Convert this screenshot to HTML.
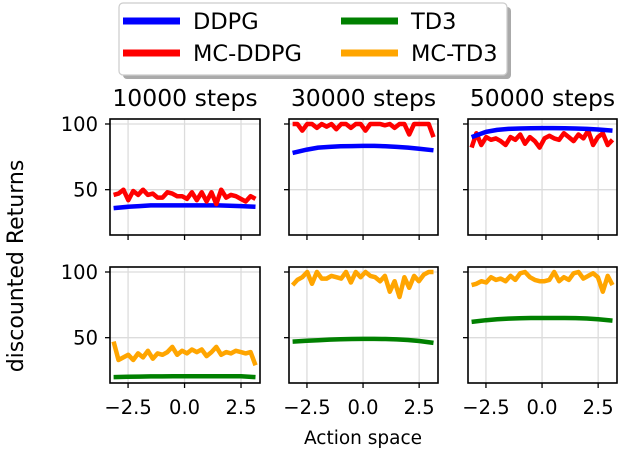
<!DOCTYPE html>
<html><head><meta charset="utf-8"><style>
body{margin:0;background:#fff;font-family:"DejaVu Sans","Liberation Sans",sans-serif}
svg text{font-family:"DejaVu Sans","Liberation Sans",sans-serif}
</style></head><body>
<svg id="chart" width="618" height="448" xmlns="http://www.w3.org/2000/svg"></svg>
<script>
const titles=["10000 steps","30000 steps","50000 steps"];
const xTicks=[-2.5,0.0,2.5];
const xTickLabels=["\u22122.5","0.0","2.5"];
const yTicks=[50,100];
const smoothX=[-3.14,-2.5,-2,-1.5,-1,-0.5,0,0.5,1,1.5,2,2.5,3.14];
const ddpg10=[36,37,37.5,38,38,38,38,38,38,38,37.8,37.5,37];
const ddpg30=[78,80.5,82,82.6,83,83.2,83.3,83.3,83.1,82.6,82,81.2,80];
const ddpg50=[90,94,95.5,96.3,96.6,96.8,96.9,96.9,96.8,96.6,96.3,95.8,95];
const td3_10=[20,20.2,20.4,20.5,20.5,20.6,20.6,20.6,20.6,20.7,20.7,20.6,20];
const td3_30=[47,47.6,48.1,48.5,48.8,49,49.1,49.1,49,48.7,48.2,47.5,46];
const td3_50=[62,63.3,64,64.5,64.8,65,65,65,65,64.9,64.6,64,63];
const mcddpg10=[46,47,50,42,49,46,50,46,47,44,44,48,47,45,45,43,48,42,48,41,48,39,50,44,46,45,43,41,45,43];
const mcddpg30=[100,100,95,100,100,97,100,98,100,96,100,100,97,100,100,95,100,100,100,99,100,97,100,100,92,100,100,100,100,90];
const mcddpg50=[82,93,84,90,88,89,87,84,90,88,92,85,90,87,82,89,91,89,88,93,90,87,92,89,95,84,90,93,84,88];
const mctd3_10=[47,33,35,37,33,38,35,40,34,38,37,39,43,37,40,38,41,39,41,36,39,43,37,39,38,40,39,38,39,29];
const mctd3_30=[90,94,96,100,91,100,95,95,97,96,95,100,92,100,96,100,97,96,93,97,85,93,81,96,88,97,93,98,100,100];
const mctd3_50=[90,91,93,92,96,94,95,93,97,94,99,100,96,94,93,93,94,100,93,96,94,99,100,95,97,99,96,85,97,90];
const colors={ddpg:"#0000ff",mcddpg:"#ff0000",td3:"#008000",mctd3:"#ffa500"};
const NS="http://www.w3.org/2000/svg";
const svg=document.getElementById("chart");
function mk(tag,attrs,parent){const e=document.createElementNS(NS,tag);for(const k in attrs)e.setAttribute(k,attrs[k]);(parent||svg).appendChild(e);return e;}
const cols=[[110,260],[289,438],[468,617]];
const rows=[[119,235],[267,383]];
const xMin=-3.3,xMax=3.34,yMin=15.5,yMax=103.8;
function noisyX(n){const a=[];for(let i=0;i<n;i++)a.push(-3.14+6.28*i/(n-1));return a;}
const series=[
 [[ddpg10,smoothX,"ddpg"],[mcddpg10,null,"mcddpg"]],
 [[ddpg30,smoothX,"ddpg"],[mcddpg30,null,"mcddpg"]],
 [[mcddpg50,null,"mcddpg"],[ddpg50,smoothX,"ddpg"]],
 [[td3_10,smoothX,"td3"],[mctd3_10,null,"mctd3"]],
 [[td3_30,smoothX,"td3"],[mctd3_30,null,"mctd3"]],
 [[td3_50,smoothX,"td3"],[mctd3_50,null,"mctd3"]]
];
for(let r=0;r<2;r++)for(let c=0;c<3;c++){
 const [x0,x1]=cols[c],[y0,y1]=rows[r];
 const sx=v=>x0+(v-xMin)/(xMax-xMin)*(x1-x0);
 const sy=v=>y1-(v-yMin)/(yMax-yMin)*(y1-y0);
 const g=mk("g",{});
 
 
 xTicks.forEach((t,i)=>{const x=sx(t);mk("line",{x1:x,x2:x,y1:y0,y2:y1,stroke:"#dcdcdc","stroke-width":1.3},g);
  mk("line",{x1:x,x2:x,y1:y1,y2:y1+5,stroke:"#000","stroke-width":1.3},g);
  if(r===1){const tl=mk("text",{x:x,y:y1+31,"font-size":19.5,"text-anchor":"middle"},g);tl.textContent=xTickLabels[i];
   }});
 yTicks.forEach(t=>{const y=sy(t);mk("line",{x1:x0,x2:x1,y1:y,y2:y,stroke:"#dcdcdc","stroke-width":1.3},g);
  mk("line",{x1:x0-5,x2:x0,y1:y,y2:y,stroke:"#000","stroke-width":1.3},g);
  if(c===0){const tl=mk("text",{x:x0-12,y:y+7,"font-size":19.5,"text-anchor":"end"},g);tl.textContent=String(t);
   }});
 const cp=mk("clipPath",{id:"cp"+r+c},g);mk("rect",{x:x0,y:y0,width:x1-x0,height:y1-y0},cp);
 series[r*3+c].forEach(([vals,xs,key])=>{
  const X=xs||noisyX(vals.length);
  const d=vals.map((v,i)=>(i?"L":"M")+sx(X[i]).toFixed(1)+","+sy(v).toFixed(1)).join("");
  const p=mk("path",{d:d,fill:"none",stroke:colors[key],"stroke-width":4.5,"stroke-linejoin":"round","clip-path":"url(#cp"+r+c+")"},g);
  
  
 });
 mk("rect",{x:x0,y:y0,width:x1-x0,height:y1-y0,fill:"none",stroke:"#000","stroke-width":1.6},g);
 if(r===0){const t=mk("text",{x:(x0+x1)/2,y:106,"font-size":23.5,"text-anchor":"middle"},g);t.textContent=titles[c];
  }
}
const yl=mk("text",{x:0,y:0,"font-size":22,"text-anchor":"middle",transform:"translate(23,266) rotate(-90)"});
yl.textContent="discounted Returns";


const xl=mk("text",{x:363,y:444,"font-size":18.5,"text-anchor":"middle"});
xl.textContent="Action space";


const lg=mk("g",{});


mk("rect",{x:123,y:7,width:388,height:72,rx:4,fill:"#aaa"},lg);
mk("rect",{x:119,y:3,width:388,height:72,rx:4,fill:"#fff",stroke:"#ccc","stroke-width":1.2},lg);
const legItems=[["DDPG","ddpg",123,21],["MC-DDPG","mcddpg",123,53],["TD3","td3",341,21],["MC-TD3","mctd3",341,53]];
legItems.forEach(([lab,key,x,y])=>{
 const e=mk("g",{},lg);
 
 
 mk("line",{x1:x,x2:x+57,y1:y,y2:y,stroke:colors[key],"stroke-width":7},e);
 const t=mk("text",{x:x+70,y:y+8,"font-size":22.5},e);t.textContent=lab;
});
</script>
</body></html>
